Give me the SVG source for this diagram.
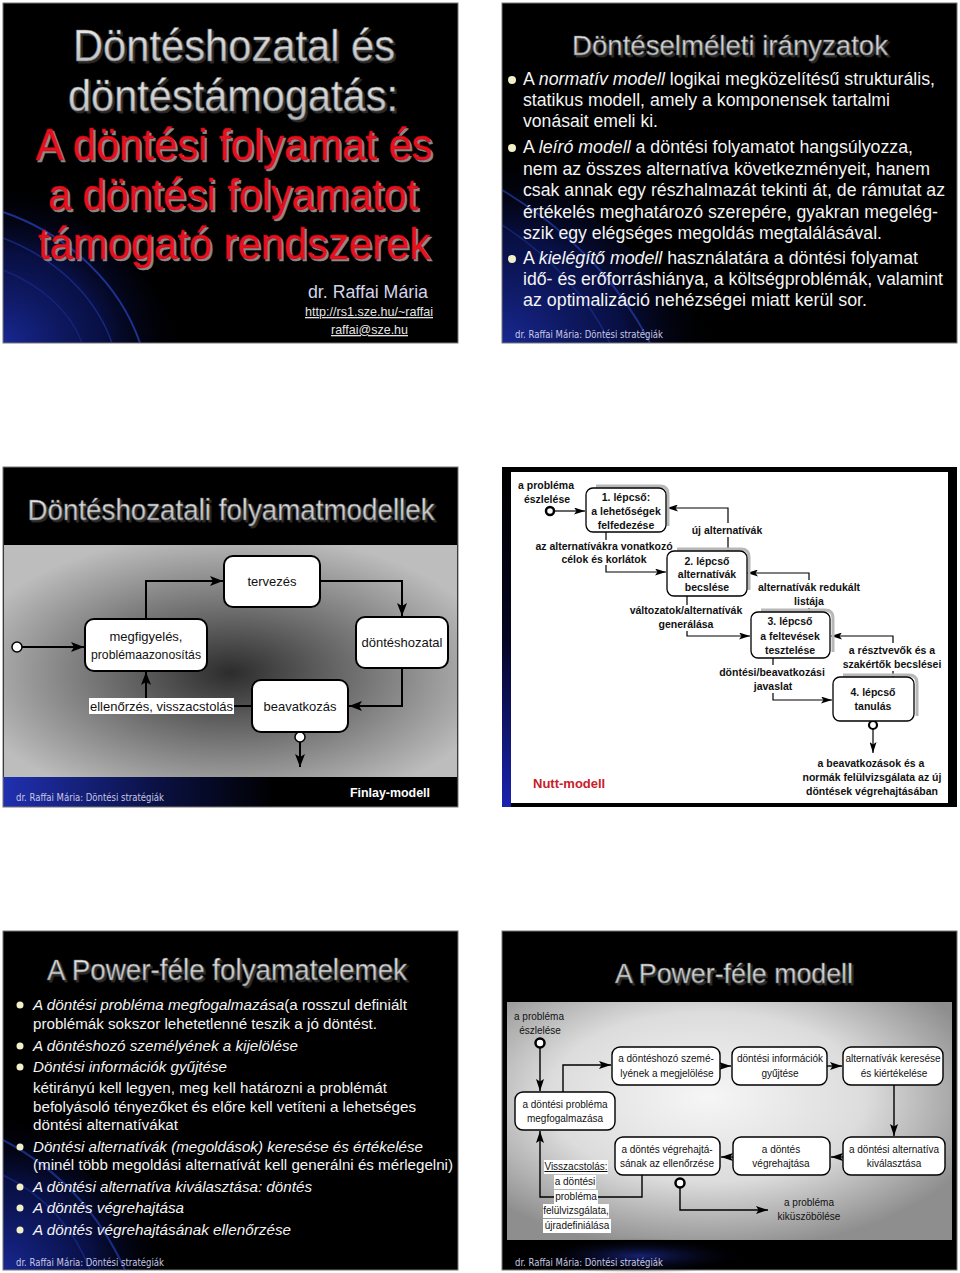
<svg xmlns="http://www.w3.org/2000/svg" width="960" height="1273" viewBox="0 0 960 1273">
<defs>
<style>
.sans{font-family:"Liberation Sans",Arial,sans-serif}
.ttl{font-family:"Liberation Sans",Arial,sans-serif;fill:url(#silver);stroke:#6a6a6a;stroke-width:0.6}
.tsh{font-family:"Liberation Sans",Arial,sans-serif;fill:#2a2a2a;stroke:#2a2a2a;stroke-width:0.8}
.red{font-family:"Liberation Sans",Arial,sans-serif;fill:#e8101a;stroke:#c00010;stroke-width:0.5}
.rsh{font-family:"Liberation Sans",Arial,sans-serif;fill:#8a8a8a;stroke:#8a8a8a;stroke-width:0.6}
.body{font-family:"Liberation Sans",Arial,sans-serif;fill:#f4f4f4}
.foot{font-family:"DejaVu Sans",Verdana,sans-serif;font-size:10px;fill:#c8c8e4}
.bul{fill:#f2f0c8}
.b3{fill:#fff;stroke:#000;stroke-width:2}
.t3{font-family:"Liberation Sans",Arial,sans-serif;font-size:13px;fill:#111;text-anchor:middle}
.c3{fill:none;stroke:#000;stroke-width:2}
.b4{fill:#fff;stroke:#000;stroke-width:1.3}
.sh4{fill:none;stroke:#b8b8b8;stroke-width:3}
.t4{font-family:"Liberation Sans",Arial,sans-serif;font-size:10.5px;font-weight:bold;fill:#111;text-anchor:middle}
.c4{fill:none;stroke:#000;stroke-width:1.2}
.b6{fill:#fff;stroke:#000;stroke-width:1.4}
.t6{font-family:"Liberation Sans",Arial,sans-serif;font-size:10px;fill:#111;text-anchor:middle}
.c6{fill:none;stroke:#000;stroke-width:1.4}
.frame{fill:none;stroke:#777;stroke-width:1}
</style>
<linearGradient id="silver" x1="0" y1="0" x2="0" y2="1">
<stop offset="0" stop-color="#f2f2f2"/><stop offset="1" stop-color="#b4b4b4"/>
</linearGradient>
<radialGradient id="glow" cx="0" cy="1" r="1">
<stop offset="0" stop-color="#1a2a9a" stop-opacity="0.95"/>
<stop offset="0.55" stop-color="#0c1660" stop-opacity="0.7"/>
<stop offset="1" stop-color="#000" stop-opacity="0"/>
</radialGradient>
<radialGradient id="gray3" cx="0.5" cy="0.55" r="0.6">
<stop offset="0" stop-color="#2c2c2c"/>
<stop offset="0.45" stop-color="#6e6e6e"/>
<stop offset="1" stop-color="#bdbdbd"/>
</radialGradient>
<radialGradient id="gray6" cx="0.45" cy="0.4" r="0.65">
<stop offset="0" stop-color="#f6f6f6"/>
<stop offset="0.55" stop-color="#dcdcdc"/>
<stop offset="1" stop-color="#8e8e8e"/>
</radialGradient>
<linearGradient id="band3" x1="0" y1="0" x2="1" y2="0">
<stop offset="0" stop-color="#2030b0"/><stop offset="0.35" stop-color="#0a1040"/><stop offset="0.6" stop-color="#000"/>
</linearGradient>
<linearGradient id="stripe4" x1="0" y1="0" x2="0" y2="1">
<stop offset="0" stop-color="#000"/><stop offset="0.5" stop-color="#050520"/><stop offset="1" stop-color="#1a22b0"/>
</linearGradient>
<radialGradient id="band6" cx="0.5" cy="0.5" r="0.5">
<stop offset="0" stop-color="#1c2a90" stop-opacity="0.8"/><stop offset="1" stop-color="#000" stop-opacity="0"/>
</radialGradient>
<marker id="ah3" viewBox="0 0 13 10" refX="13" refY="5" markerWidth="13" markerHeight="10" markerUnits="userSpaceOnUse" orient="auto"><path d="M0,0 L13,5 L0,10 L3,5 Z" fill="#000"/></marker>
<marker id="ah4" viewBox="0 0 11 7" refX="11" refY="3.5" markerWidth="11" markerHeight="7" markerUnits="userSpaceOnUse" orient="auto"><path d="M0,0 L11,3.5 L0,7 L2.5,3.5 Z" fill="#000"/></marker>
<marker id="ah6" viewBox="0 0 12 8" refX="12" refY="4" markerWidth="12" markerHeight="8" markerUnits="userSpaceOnUse" orient="auto"><path d="M0,0 L12,4 L0,8 L2.5,4 Z" fill="#000"/></marker>
</defs>
<rect width="960" height="1273" fill="#fff"/>

<!-- SLIDE 1 -->
<g id="slide1">
<rect x="3" y="3" width="455" height="340" fill="#000"/>
<path d="M3,180 C90,210 150,270 185,343 L3,343 Z" fill="url(#glow)"/>
<path d="M3,212 C70,235 120,285 140,343" fill="none" stroke="#2a44c0" stroke-width="2" opacity="0.7"/>
<path d="M3,238 C55,258 95,295 112,343" fill="none" stroke="#2038a8" stroke-width="1.5" opacity="0.6"/>
<path d="M3,270 C40,285 70,310 82,343" fill="none" stroke="#1a2c90" stroke-width="1.5" opacity="0.6"/>
<rect x="3" y="3" width="455" height="340" class="frame"/>
<g font-size="44">
<text class="tsh" x="236" y="63" text-anchor="middle" textLength="322" lengthAdjust="spacingAndGlyphs">Döntéshozatal és</text>
<text class="ttl" x="234" y="61" text-anchor="middle" textLength="322" lengthAdjust="spacingAndGlyphs">Döntéshozatal és</text>
<text class="tsh" x="235" y="113" text-anchor="middle" textLength="330" lengthAdjust="spacingAndGlyphs">döntéstámogatás:</text>
<text class="ttl" x="233" y="111" text-anchor="middle" textLength="330" lengthAdjust="spacingAndGlyphs">döntéstámogatás:</text>
<text class="rsh" x="236" y="162" text-anchor="middle" textLength="397" lengthAdjust="spacingAndGlyphs">A döntési folyamat és</text>
<text class="red" x="234" y="160" text-anchor="middle" textLength="397" lengthAdjust="spacingAndGlyphs">A döntési folyamat és</text>
<text class="rsh" x="235" y="212" text-anchor="middle" textLength="370" lengthAdjust="spacingAndGlyphs">a döntési folyamatot</text>
<text class="red" x="233" y="210" text-anchor="middle" textLength="370" lengthAdjust="spacingAndGlyphs">a döntési folyamatot</text>
<text class="rsh" x="236" y="261" text-anchor="middle" textLength="392" lengthAdjust="spacingAndGlyphs">támogató rendszerek</text>
<text class="red" x="234" y="259" text-anchor="middle" textLength="392" lengthAdjust="spacingAndGlyphs">támogató rendszerek</text>
</g>
<text class="sans" x="308" y="298" font-size="18" fill="#d4d4ec" textLength="120" lengthAdjust="spacingAndGlyphs">dr. Raffai Mária</text>
<text class="sans" x="305" y="316" font-size="13" fill="#e4e4e4" text-decoration="underline" textLength="128" lengthAdjust="spacingAndGlyphs">http://rs1.sze.hu/~raffai</text>
<text class="sans" x="331" y="334" font-size="13" fill="#e4e4e4" text-decoration="underline" textLength="77" lengthAdjust="spacingAndGlyphs">raffai@sze.hu</text>
</g>

<!-- SLIDE 2 -->
<g id="slide2">
<rect x="502" y="3" width="455" height="340" fill="#000"/>
<path d="M502,150 C580,200 660,270 720,343 L502,343 Z" fill="url(#glow)"/>
<path d="M502,190 C570,230 620,285 650,343" fill="none" stroke="#2a44c0" stroke-width="2" opacity="0.6"/>
<path d="M502,225 C550,255 590,300 610,343" fill="none" stroke="#2038a8" stroke-width="1.5" opacity="0.5"/>
<rect x="502" y="3" width="455" height="340" class="frame"/>
<text class="tsh" x="732" y="57" font-size="28" text-anchor="middle" textLength="316" lengthAdjust="spacingAndGlyphs">Döntéselméleti irányzatok</text>
<text class="ttl" x="730" y="55" font-size="28" text-anchor="middle" textLength="316" lengthAdjust="spacingAndGlyphs">Döntéselméleti irányzatok</text>
<g font-size="17.5">
<circle class="bul" cx="512" cy="80" r="4"/>
<text class="body" x="523" y="85" textLength="412" lengthAdjust="spacingAndGlyphs">A <tspan font-style="italic">normatív modell</tspan> logikai megközelítésű strukturális,</text>
<text class="body" x="523" y="106" textLength="367" lengthAdjust="spacingAndGlyphs">statikus modell, amely a komponensek tartalmi</text>
<text class="body" x="523" y="127" textLength="135" lengthAdjust="spacingAndGlyphs">vonásait emeli ki.</text>
<circle class="bul" cx="512" cy="148" r="4"/>
<text class="body" x="523" y="153" textLength="390" lengthAdjust="spacingAndGlyphs">A <tspan font-style="italic">leíró modell</tspan> a döntési folyamatot hangsúlyozza,</text>
<text class="body" x="523" y="175" textLength="407" lengthAdjust="spacingAndGlyphs">nem az összes alternatíva következményeit, hanem</text>
<text class="body" x="523" y="196" textLength="422" lengthAdjust="spacingAndGlyphs">csak annak egy részhalmazát tekinti át, de rámutat az</text>
<text class="body" x="523" y="218" textLength="415" lengthAdjust="spacingAndGlyphs">értékelés meghatározó szerepére, gyakran megelég-</text>
<text class="body" x="523" y="239" textLength="359" lengthAdjust="spacingAndGlyphs">szik egy elégséges megoldás megtalálásával.</text>
<circle class="bul" cx="512" cy="259" r="4"/>
<text class="body" x="523" y="264" textLength="395" lengthAdjust="spacingAndGlyphs">A <tspan font-style="italic">kielégítő modell</tspan> használatára a döntési folyamat</text>
<text class="body" x="523" y="285" textLength="420" lengthAdjust="spacingAndGlyphs">idő- és erőforráshiánya, a költségproblémák, valamint</text>
<text class="body" x="523" y="306" textLength="344" lengthAdjust="spacingAndGlyphs">az optimalizáció nehézségei miatt kerül sor.</text>
</g>
<text class="foot" x="515" y="338" textLength="148" lengthAdjust="spacingAndGlyphs">dr. Raffai Mária: Döntési stratégiák</text>
</g>

<!-- SLIDE 3: Finlay-modell -->
<g id="slide3">
<rect x="3" y="467" width="455" height="340" fill="#000"/>
<rect x="4" y="545" width="453" height="232" fill="url(#gray3)"/>
<rect x="3" y="777" width="455" height="30" fill="url(#band3)"/>
<rect x="3" y="467" width="455" height="340" class="frame"/>
<text class="tsh" x="233" y="522" font-size="30" text-anchor="middle" textLength="407" lengthAdjust="spacingAndGlyphs">Döntéshozatali folyamatmodellek</text>
<text class="ttl" x="231" y="520" font-size="30" text-anchor="middle" textLength="407" lengthAdjust="spacingAndGlyphs">Döntéshozatali folyamatmodellek</text>
<text class="foot" x="16" y="801" textLength="148" lengthAdjust="spacingAndGlyphs">dr. Raffai Mária: Döntési stratégiák</text>
<text class="sans" x="350" y="797" font-size="13" font-weight="bold" fill="#fff" textLength="80" lengthAdjust="spacingAndGlyphs">Finlay-modell</text>
</g>
<g id="connectors3">
<circle cx="17" cy="647" r="5" fill="#fff" stroke="#000" stroke-width="1.5"/>
<path class="c3" d="M22,647 H84" marker-end="url(#ah3)"/>
<path class="c3" d="M146,619 V581 H223" marker-end="url(#ah3)"/>
<path class="c3" d="M320,581 H402 V616" marker-end="url(#ah3)"/>
<path class="c3" d="M402,668 V706 H349" marker-end="url(#ah3)"/>
<path class="c3" d="M252,706 H146 V672" marker-end="url(#ah3)"/>
<circle cx="300" cy="737" r="5" fill="#fff" stroke="#000" stroke-width="1.5"/>
<path class="c3" d="M300,742 V767" marker-end="url(#ah3)"/>
<rect x="89" y="698" width="145" height="16" fill="#fff"/>
<text class="t3" x="161.5" y="711" textLength="143" lengthAdjust="spacingAndGlyphs">ellenőrzés, visszacstolás</text>
</g>
<g id="n3-megfigyeles">
<rect class="b3" x="85" y="619" width="122" height="52" rx="9"/>
<text class="t3" x="146" y="641">megfigyelés,</text>
<text class="t3" x="146" y="659" textLength="110" lengthAdjust="spacingAndGlyphs">problémaazonosítás</text>
</g>
<g id="n3-tervezes">
<rect class="b3" x="224" y="556" width="96" height="51" rx="9"/>
<text class="t3" x="272" y="586">tervezés</text>
</g>
<g id="n3-donteshozatal">
<rect class="b3" x="356" y="617" width="92" height="51" rx="9"/>
<text class="t3" x="402" y="647">döntéshozatal</text>
</g>
<g id="n3-beavatkozas">
<rect class="b3" x="252" y="680" width="96" height="52" rx="9"/>
<text class="t3" x="300" y="711">beavatkozás</text>
</g>

<!-- SLIDE 4: Nutt-modell -->
<g id="slide4">
<rect x="502" y="467" width="455" height="340" fill="#000"/>
<rect x="502" y="467" width="9" height="340" fill="url(#stripe4)"/>
<rect x="511" y="472" width="437" height="331" fill="#fff"/>
<text class="sans" x="533" y="788" font-size="13" font-weight="bold" fill="#c8202a">Nutt-modell</text>
</g>
<g id="connectors4">
<circle cx="550" cy="511" r="4" fill="#fff" stroke="#000" stroke-width="2.5"/>
<path class="c4" d="M554,511 H585" stroke-width="2.5" marker-end="url(#ah4)"/>
<path class="c4" d="M606,532 V572 H666" marker-end="url(#ah4)"/>
<path class="c4" d="M728,551 V508 H667" marker-end="url(#ah4)"/>
<path class="c4" d="M687,596 V636 H750" marker-end="url(#ah4)"/>
<path class="c4" d="M809,612 V573 H747" marker-end="url(#ah4)"/>
<path class="c4" d="M773,658 V700 H832" marker-end="url(#ah4)"/>
<path class="c4" d="M893,677 V636 H831" marker-end="url(#ah4)"/>
<circle cx="873" cy="725" r="4" fill="#fff" stroke="#000" stroke-width="2.2"/>
<path class="c4" d="M873,729 V753" stroke-width="2.5" marker-end="url(#ah4)"/>
<g fill="#fff">
<rect x="535" y="540" width="140" height="25"/>
<rect x="690" y="523" width="74" height="14"/>
<rect x="627" y="605" width="120" height="26"/>
<rect x="756" y="580" width="108" height="28"/>
<rect x="716" y="665" width="113" height="28"/>
<rect x="841" y="643" width="103" height="28"/>
</g>
<text class="t4" x="546" y="489">a probléma</text>
<text class="t4" x="547" y="503">észlelése</text>
<text class="t4" x="604" y="550">az alternatívákra vonatkozó</text>
<text class="t4" x="604" y="563">célok és korlátok</text>
<text class="t4" x="727" y="534">új alternatívák</text>
<text class="t4" x="686" y="614">változatok/alternatívák</text>
<text class="t4" x="686" y="628">generálása</text>
<text class="t4" x="809" y="591">alternatívák redukált</text>
<text class="t4" x="809" y="605">listája</text>
<text class="t4" x="772" y="676">döntési/beavatkozási</text>
<text class="t4" x="773" y="690">javaslat</text>
<text class="t4" x="892" y="654">a résztvevők és a</text>
<text class="t4" x="892" y="668">szakértők becslései</text>
<text class="t4" x="871" y="767">a beavatkozások és a</text>
<text class="t4" x="872" y="781">normák felülvizsgálata az új</text>
<text class="t4" x="872" y="795">döntések végrehajtásában</text>
</g>
<g id="n4-step1">
<path class="sh4" d="M596,486 H660 Q668,486 668,494 V526"/>
<rect class="b4" x="586" y="488" width="80" height="44" rx="7"/>
<text class="t4" x="626" y="501">1. lépcső:</text>
<text class="t4" x="626" y="515">a lehetőségek</text>
<text class="t4" x="626" y="529">felfedezése</text>
</g>
<g id="n4-step2">
<path class="sh4" d="M677,549 H741 Q749,549 749,557 V590"/>
<rect class="b4" x="667" y="551" width="80" height="45" rx="7"/>
<text class="t4" x="707" y="565">2. lépcső</text>
<text class="t4" x="707" y="578">alternatívák</text>
<text class="t4" x="707" y="591">becslése</text>
</g>
<g id="n4-step3">
<path class="sh4" d="M761,610 H825 Q833,610 833,618 V652"/>
<rect class="b4" x="751" y="612" width="79" height="46" rx="7"/>
<text class="t4" x="790" y="625">3. lépcső</text>
<text class="t4" x="790" y="640">a feltevések</text>
<text class="t4" x="790" y="654">tesztelése</text>
</g>
<g id="n4-step4">
<path class="sh4" d="M843,675 H909 Q917,675 917,683 V716"/>
<rect class="b4" x="833" y="677" width="81" height="44" rx="7"/>
<text class="t4" x="873" y="696">4. lépcső</text>
<text class="t4" x="873" y="710">tanulás</text>
</g>

<!-- SLIDE 5 -->
<g id="slide5">
<rect x="3" y="931" width="455" height="339" fill="#000"/>
<path d="M3,1110 C70,1150 130,1210 170,1270 L3,1270 Z" fill="url(#glow)"/>
<path d="M3,1140 C60,1170 100,1215 125,1270" fill="none" stroke="#2a44c0" stroke-width="2" opacity="0.6"/>
<path d="M3,1175 C45,1195 75,1230 90,1270" fill="none" stroke="#2038a8" stroke-width="1.5" opacity="0.5"/>
<rect x="3" y="931" width="455" height="339" class="frame"/>
<text class="tsh" x="229" y="982" font-size="30" text-anchor="middle" textLength="360" lengthAdjust="spacingAndGlyphs">A Power-féle folyamatelemek</text>
<text class="ttl" x="227" y="980" font-size="30" text-anchor="middle" textLength="360" lengthAdjust="spacingAndGlyphs">A Power-féle folyamatelemek</text>
<g font-size="15.5">
<circle class="bul" cx="20" cy="1005" r="3.5"/>
<text class="body" x="33" y="1010" textLength="374" lengthAdjust="spacingAndGlyphs"><tspan font-style="italic">A döntési probléma megfogalmazása</tspan>(a rosszul definiált</text>
<text class="body" x="33" y="1029" textLength="344" lengthAdjust="spacingAndGlyphs">problémák sokszor lehetetlenné teszik a jó döntést.</text>
<circle class="bul" cx="20" cy="1046" r="3.5"/>
<text class="body" x="33" y="1051" font-style="italic" textLength="265" lengthAdjust="spacingAndGlyphs">A döntéshozó személyének a kijelölése</text>
<circle class="bul" cx="20" cy="1067" r="3.5"/>
<text class="body" x="33" y="1072" font-style="italic" textLength="194" lengthAdjust="spacingAndGlyphs">Döntési információk gyűjtése</text>
<text class="body" x="33" y="1093" textLength="354" lengthAdjust="spacingAndGlyphs">kétirányú kell legyen, meg kell határozni a problémát</text>
<text class="body" x="33" y="1112" textLength="383" lengthAdjust="spacingAndGlyphs">befolyásoló tényezőket és előre kell vetíteni a lehetséges</text>
<text class="body" x="33" y="1130" textLength="145" lengthAdjust="spacingAndGlyphs">döntési alternatívákat</text>
<circle class="bul" cx="20" cy="1147" r="3.5"/>
<text class="body" x="33" y="1152" font-style="italic" textLength="390" lengthAdjust="spacingAndGlyphs">Döntési alternatívák (megoldások) keresése és értékelése</text>
<text class="body" x="33" y="1170" textLength="420" lengthAdjust="spacingAndGlyphs">(minél több megoldási alternatívát kell generálni és mérlegelni)</text>
<circle class="bul" cx="20" cy="1187" r="3.5"/>
<text class="body" x="33" y="1192" font-style="italic" textLength="279" lengthAdjust="spacingAndGlyphs">A döntési alternatíva kiválasztása: döntés</text>
<circle class="bul" cx="20" cy="1208" r="3.5"/>
<text class="body" x="33" y="1213" font-style="italic" textLength="151" lengthAdjust="spacingAndGlyphs">A döntés végrehajtása</text>
<circle class="bul" cx="20" cy="1230" r="3.5"/>
<text class="body" x="33" y="1235" font-style="italic" textLength="258" lengthAdjust="spacingAndGlyphs">A döntés végrehajtásának ellenőrzése</text>
</g>
<text class="foot" x="16" y="1266" textLength="148" lengthAdjust="spacingAndGlyphs">dr. Raffai Mária: Döntési stratégiák</text>
</g>

<!-- SLIDE 6 -->
<g id="slide6">
<rect x="502" y="931" width="455" height="339" fill="#000"/>
<rect x="507" y="1002" width="445" height="238" fill="url(#gray6)"/>
<ellipse cx="640" cy="1256" rx="110" ry="18" fill="url(#band6)"/>
<rect x="502" y="931" width="455" height="339" class="frame"/>
<text class="tsh" x="736" y="985" font-size="28" text-anchor="middle" textLength="238" lengthAdjust="spacingAndGlyphs">A Power-féle modell</text>
<text class="ttl" x="734" y="983" font-size="28" text-anchor="middle" textLength="238" lengthAdjust="spacingAndGlyphs">A Power-féle modell</text>
<text class="foot" x="515" y="1266" textLength="148" lengthAdjust="spacingAndGlyphs">dr. Raffai Mária: Döntési stratégiák</text>
</g>
<g id="connectors6">
<text class="t6" x="539" y="1020">a probléma</text>
<text class="t6" x="540" y="1034">észlelése</text>
<circle cx="540" cy="1043" r="4.5" fill="#fff" stroke="#000" stroke-width="2.5"/>
<path class="c6" d="M540,1048 V1091" stroke-width="2.5" marker-end="url(#ah6)"/>
<path class="c6" d="M563,1092 V1065 H611" marker-end="url(#ah6)"/>
<path class="c6" d="M720,1066 H731" marker-end="url(#ah6)"/>
<path class="c6" d="M827,1066 H842" marker-end="url(#ah6)"/>
<path class="c6" d="M894,1085 V1136" marker-end="url(#ah6)"/>
<path class="c6" d="M843,1157 H831" marker-end="url(#ah6)"/>
<path class="c6" d="M733,1157 H721" marker-end="url(#ah6)"/>
<path class="c6" d="M642,1175 V1197 H540 V1131" marker-end="url(#ah6)"/>
<circle cx="680" cy="1183" r="4.5" fill="#fff" stroke="#000" stroke-width="2.5"/>
<path class="c6" d="M680,1188 V1210 H768" stroke-width="2.5" marker-end="url(#ah6)"/>
<g fill="#fff">
<rect x="544" y="1160" width="64" height="14"/>
<rect x="554" y="1175" width="42" height="14"/>
<rect x="554" y="1190" width="44" height="14"/>
<rect x="543" y="1204" width="66" height="14"/>
<rect x="543" y="1219" width="68" height="14"/>
</g>
<text class="t6" x="576" y="1170" text-decoration="underline">Visszacstolás:</text>
<text class="t6" x="575" y="1185">a döntési</text>
<text class="t6" x="576" y="1200">probléma</text>
<text class="t6" x="576" y="1214">felülvizsgálata,</text>
<text class="t6" x="577" y="1229">újradefiniálása</text>
<text class="t6" x="809" y="1206">a probléma</text>
<text class="t6" x="809" y="1220">kiküszöbölése</text>
</g>
<g id="n6-megfogalmazas">
<rect class="b6" x="515" y="1092" width="100" height="38" rx="8"/>
<text class="t6" x="565" y="1108">a döntési probléma</text>
<text class="t6" x="565" y="1122">megfogalmazása</text>
</g>
<g id="n6-donteshozo">
<rect class="b6" x="612" y="1047" width="108" height="38" rx="8"/>
<text class="t6" x="666" y="1062">a döntéshozó szemé-</text>
<text class="t6" x="667" y="1077">lyének a megjelölése</text>
</g>
<g id="n6-informaciok">
<rect class="b6" x="732" y="1047" width="95" height="38" rx="8"/>
<text class="t6" x="780" y="1062">döntési információk</text>
<text class="t6" x="780" y="1077">gyűjtése</text>
</g>
<g id="n6-alternativak">
<rect class="b6" x="843" y="1047" width="100" height="38" rx="8"/>
<text class="t6" x="893" y="1062">alternatívák keresése</text>
<text class="t6" x="894" y="1077">és kiértékelése</text>
</g>
<g id="n6-kivalasztas">
<rect class="b6" x="843" y="1137" width="102" height="38" rx="8"/>
<text class="t6" x="894" y="1153">a döntési alternatíva</text>
<text class="t6" x="894" y="1167">kiválasztása</text>
</g>
<g id="n6-vegrehajtas">
<rect class="b6" x="733" y="1137" width="97" height="38" rx="8"/>
<text class="t6" x="781" y="1153">a döntés</text>
<text class="t6" x="781" y="1167">végrehajtása</text>
</g>
<g id="n6-ellenorzes">
<rect class="b6" x="615" y="1137" width="105" height="38" rx="8"/>
<text class="t6" x="667" y="1153">a döntés végrehajtá-</text>
<text class="t6" x="667" y="1167">sának az ellenőrzése</text>
</g>
</svg>
